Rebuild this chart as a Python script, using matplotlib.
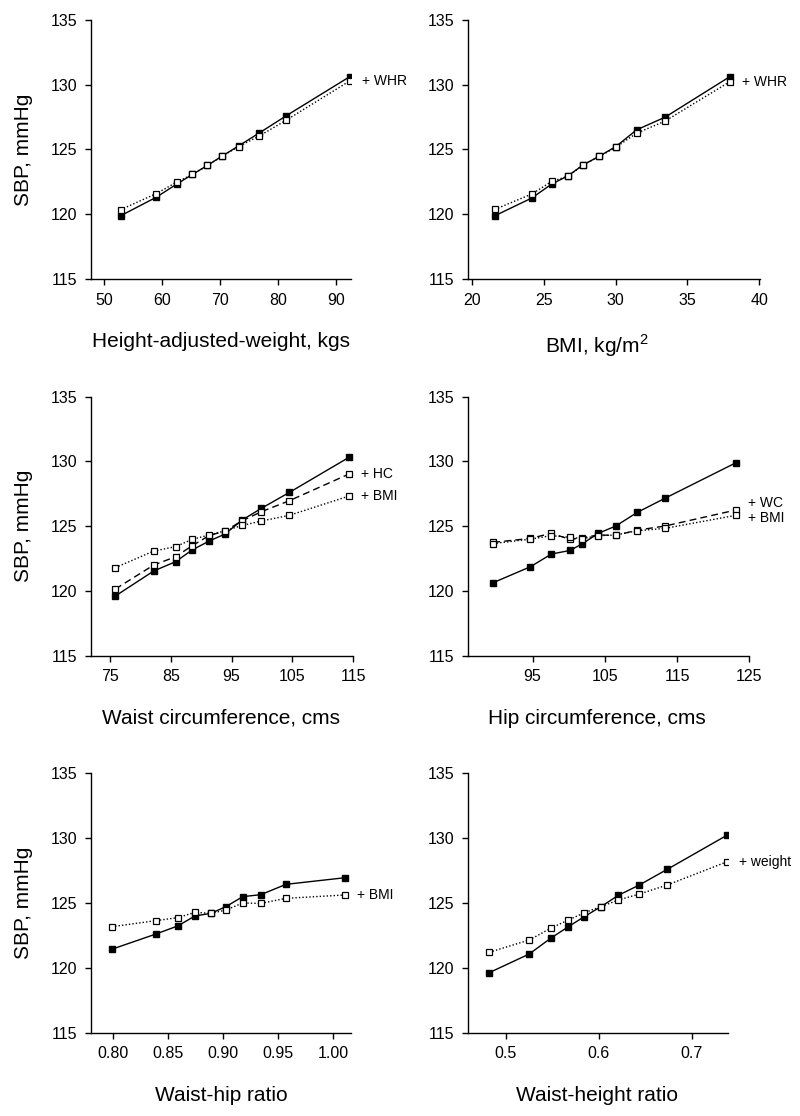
import matplotlib
matplotlib.use("Agg")
import matplotlib.pyplot as plt

plt.rcParams['font.family'] = ['Liberation Sans', 'DejaVu Sans']
plt.rcParams['mathtext.fontset'] = 'custom'
plt.rcParams['mathtext.rm'] = 'Liberation Sans'

# ---------------- data ----------------
hw_x = [52.8, 59.0, 62.5, 65.2, 67.8, 70.4, 73.2, 76.7, 81.4, 92.4]
hw_sbp = [119.88, 121.32, 122.33, 123.07, 123.77, 124.51, 125.28, 126.26, 127.60, 130.63]
hw_whr = [120.35, 121.60, 122.48, 123.07, 123.77, 124.49, 125.23, 126.03, 127.26, 130.30]

bmi_x = [21.6, 24.17, 25.56, 26.7, 27.76, 28.88, 30.03, 31.47, 33.44, 37.96]
bmi_sbp = [119.88, 121.25, 122.33, 122.97, 123.82, 124.49, 125.23, 126.52, 127.49, 130.63]
bmi_whr = [120.37, 121.56, 122.53, 122.94, 123.82, 124.46, 125.18, 126.26, 127.19, 130.24]

wc_x = [75.9, 82.2, 85.8, 88.5, 91.3, 93.9, 96.75, 99.9, 104.5, 114.3]
wc_sbp = [119.61, 121.54, 122.26, 123.16, 123.85, 124.39, 125.48, 126.38, 127.61, 130.32]
wc_hc = [120.15, 122.00, 122.64, 123.49, 124.27, 124.63, 125.42, 126.12, 126.97, 129.03]
wc_bmi = [121.80, 123.08, 123.42, 123.98, 124.32, 124.65, 125.06, 125.40, 125.84, 127.33]

hc_x = [89.55, 94.7, 97.6, 100.2, 101.9, 104.1, 106.5, 109.5, 113.3, 123.15]
hc_sbp = [120.64, 121.87, 122.85, 123.13, 123.65, 124.45, 125.01, 126.07, 127.15, 129.90]
hc_wc = [123.75, 124.06, 124.45, 123.98, 124.11, 124.32, 124.29, 124.70, 125.01, 126.25]
hc_bmi = [123.66, 124.00, 124.27, 124.14, 124.04, 124.27, 124.32, 124.65, 124.83, 125.84]

whr_x = [0.7985, 0.8388, 0.8585, 0.8742, 0.8885, 0.9024, 0.9176, 0.9339, 0.957, 1.0106]
whr_sbp = [121.43, 122.61, 123.23, 124.00, 124.20, 124.72, 125.49, 125.64, 126.44, 126.95]
whr_bmi = [123.17, 123.64, 123.87, 124.28, 124.20, 124.46, 125.00, 124.97, 125.36, 125.62]

whtr_x = [0.482, 0.5251, 0.5481, 0.5671, 0.5844, 0.6023, 0.621, 0.6436, 0.6738, 0.7384]
whtr_sbp = [119.63, 121.07, 122.28, 123.17, 123.95, 124.72, 125.59, 126.39, 127.60, 130.24]
whtr_wt = [121.20, 122.15, 123.05, 123.69, 124.25, 124.72, 125.23, 125.69, 126.39, 128.19]

ci = 0.2  # approx half width of CI whiskers on the filled points
yticks = [115, 120, 125, 130, 135]

fig = plt.figure(figsize=(8, 11.16), dpi=100)


def px_axes(l, r, t, b):
    return fig.add_axes([l / 800, 1 - b / 1116, (r - l) / 800, (b - t) / 1116])


def panel(box, xlim, xticks, xlab, lab_x, x, sbp, adjusted, ylab=True, fmt=None):
    ax = px_axes(*box)
    ax.errorbar(x, sbp, yerr=ci, color='black', lw=1, marker='s', ms=3.8,
                elinewidth=1, capsize=0, zorder=3)
    for vals, ls, name, dy in adjusted:
        ax.plot(x, vals, color='black', lw=1, ls=ls, marker='s', ms=5,
                mfc='white', mec='black', mew=0.9, zorder=4)
        ax.annotate(name, xy=(x[-1], vals[-1]), xytext=(8.5, dy),
                    textcoords='offset points', va='center', ha='left',
                    fontsize=10, annotation_clip=False)
    ax.set_xlim(xlim)
    ax.set_ylim(115, 135)
    ax.set_xticks(xticks)
    if fmt:
        ax.set_xticklabels([fmt.format(t) for t in xticks])
    ax.set_yticks(yticks)
    for s in ['top', 'right']:
        ax.spines[s].set_visible(False)
    for s in ['left', 'bottom']:
        ax.spines[s].set_linewidth(1)
    ax.tick_params(direction='out', length=4.3, width=1, pad=5.5, labelsize=11.5)
    ax.set_xlabel(xlab, fontsize=15, va='top')
    ax.xaxis.set_label_coords(lab_x, -0.205)
    if ylab:
        ax.set_ylabel('SBP, mmHg', fontsize=15)
        ax.yaxis.set_label_coords(-0.223, 0.5)
    return ax


panel((91, 351, 20, 279), (47.7, 92.6), [50, 60, 70, 80, 90],
      'Height-adjusted-weight, kgs', 0.5, hw_x, hw_sbp,
      [(hw_whr, (0, (1, 1.5)), '+ WHR', 0)])
panel((468.3, 760, 20, 279), (19.76, 40.05), [20, 25, 30, 35, 40],
      'BMI, kg/m$^\\mathregular{2}$', 0.441, bmi_x, bmi_sbp,
      [(bmi_whr, (0, (1, 1.5)), '+ WHR', 0)], ylab=False)
panel((91, 353.3, 396.7, 655.7), (71.9, 115), [75, 85, 95, 105, 115],
      'Waist circumference, cms', 0.496, wc_x, wc_sbp,
      [(wc_hc, (0, (5, 3)), '+ HC', 0), (wc_bmi, (0, (1, 1.5)), '+ BMI', 0)])
panel((468.3, 749.3, 396.7, 655.7), (86.1, 125), [95, 105, 115, 125],
      'Hip circumference, cms', 0.458, hc_x, hc_sbp,
      [(hc_wc, (0, (5, 3)), '+ WC', 5), (hc_bmi, (0, (1, 1.5)), '+ BMI', -2)], ylab=False)
panel((91.3, 351, 773.3, 1032.7), (0.78, 1.016), [0.80, 0.85, 0.90, 0.95, 1.00],
      'Waist-hip ratio', 0.5, whr_x, whr_sbp,
      [(whr_bmi, (0, (1, 1.5)), '+ BMI', 0)], fmt='{:.2f}')
panel((468.3, 727.7, 773.3, 1032.7), (0.4594, 0.7388), [0.5, 0.6, 0.7],
      'Waist-height ratio', 0.496, whtr_x, whtr_sbp,
      [(whtr_wt, (0, (1, 1.5)), '+ weight', 0)], ylab=False)

fig.savefig('out.png', dpi=100)
